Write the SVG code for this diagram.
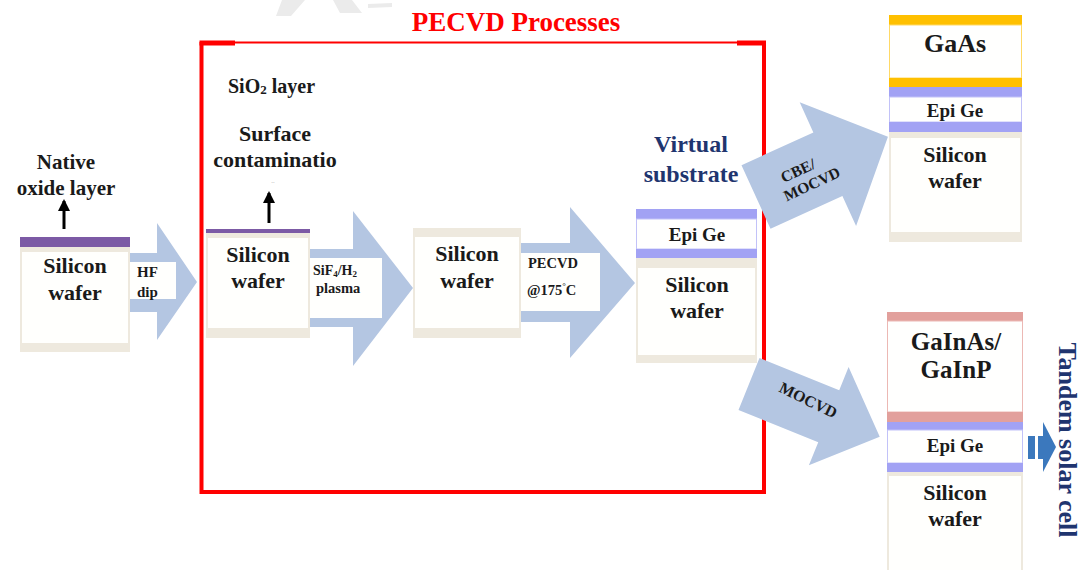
<svg xmlns="http://www.w3.org/2000/svg" width="1083" height="570" viewBox="0 0 1083 570">
<style>
.t{font-family:"Liberation Serif","Times New Roman",serif;font-weight:bold;fill:#1a1a1a;text-anchor:middle}
.l{text-anchor:start}
.arr{fill:#b4c6e2}
.beige{fill:#eee9de}
.wh{fill:#fffffd}
.ox{fill:#7c5aa5}
.ge{fill:#a2a2f4}
.geb{fill:#fffffe;stroke:#c2c2f8;stroke-width:1}
.ora{fill:#ffc000}
.orab{fill:#fffffe;stroke:#ffd966;stroke-width:1}
.pk{fill:#e2a09c}
.pkb{fill:#fffffe;stroke:#ecb8b4;stroke-width:1}
.red{fill:none;stroke:#ff0000}
.navy{fill:#1f356f}
</style>
<defs>
<marker id="up" markerWidth="12" markerHeight="12" refX="10" refY="6" orient="auto" markerUnits="userSpaceOnUse" viewBox="0 0 12 12">
<path d="M0,0 L12,6 L0,12 Z" fill="#000"/>
</marker>
</defs>
<rect width="1083" height="570" fill="#ffffff"/>
<!-- faint watermark -->
<g fill="#ebebeb">
<polygon points="282,0 305,0 291,16 276,16"/>
<polygon points="333,0 352,0 362,13 340,13"/>
<polygon points="368,4 392,3 392,7 368,8"/>
</g>

<!-- red PECVD box -->
<g id="pecvd-box">
<path class="red" d="M201.5,42 V492 H764 V42" stroke-width="4"/>
<line class="red" x1="201" y1="42.5" x2="765" y2="42.5" stroke-width="2"/>
<line class="red" x1="199.5" y1="43" x2="235" y2="43" stroke-width="5"/>
<line class="red" x1="737" y1="43" x2="766" y2="43" stroke-width="5"/>
<text class="t" x="516" y="31" font-size="27" style="fill:#ff0000">PECVD Processes</text>
</g>

<!-- annotations -->
<g id="native-oxide-label">
<text class="t" x="66" y="169" font-size="21">Native</text>
<text class="t" x="66" y="195" font-size="21">oxide layer</text>
<line x1="64" y1="229" x2="64" y2="201" stroke="#000" stroke-width="3" marker-end="url(#up)"/>
</g>
<g id="sio2-label">
<text class="t l" x="228" y="93" font-size="20">SiO<tspan font-size="13" dy="1">2</tspan><tspan dy="-1"> layer</tspan></text>
</g>
<g id="surface-label">
<text class="t" x="275" y="141" font-size="22">Surface</text>
<text class="t" x="275" y="167" font-size="22">contaminatio</text>
<text class="t" x="273" y="184" font-size="5" style="fill:#888">··</text>
<line x1="269" y1="223" x2="269" y2="193" stroke="#000" stroke-width="3" marker-end="url(#up)"/>
</g>
<g id="virtual-label">
<text class="t navy" x="691" y="152" font-size="24">Virtual</text>
<text class="t navy" x="691" y="182" font-size="24">substrate</text>
</g>

<!-- wafer 1 -->
<g id="wafer1">
<rect class="ox" x="20" y="237" width="110" height="10"/>
<rect class="beige" x="20" y="247" width="110" height="105"/>
<rect class="wh" x="22" y="252" width="106" height="91"/>
<text class="t" x="75" y="273" font-size="22">Silicon</text>
<text class="t" x="75" y="300" font-size="22">wafer</text>
</g>

<!-- wafer 2 -->
<g id="wafer2">
<rect class="ox" x="206" y="229" width="104" height="4"/>
<rect class="beige" x="206" y="233" width="104" height="105"/>
<rect class="wh" x="208" y="238" width="100" height="90"/>
<text class="t" x="258" y="262" font-size="22">Silicon</text>
<text class="t" x="258" y="288" font-size="22">wafer</text>
</g>

<!-- wafer 3 -->
<g id="wafer3">
<rect class="beige" x="413" y="228" width="108" height="110"/>
<rect class="wh" x="415" y="237" width="104" height="91"/>
<text class="t" x="467" y="261" font-size="22">Silicon</text>
<text class="t" x="467" y="288" font-size="22">wafer</text>
</g>

<!-- wafer 4 virtual substrate -->
<g id="wafer4">
<rect class="ge" x="636" y="209" width="121" height="10"/>
<rect class="geb" x="636.5" y="219" width="120" height="30"/>
<rect class="ge" x="636" y="249" width="121" height="9"/>
<rect class="beige" x="636" y="258" width="121" height="105"/>
<rect class="wh" x="638" y="268" width="117" height="87"/>
<text class="t" x="697" y="241" font-size="19">Epi Ge</text>
<text class="t" x="697" y="292" font-size="22">Silicon</text>
<text class="t" x="697" y="318" font-size="22">wafer</text>
</g>

<!-- GaAs stack -->
<g id="gaas-stack">
<rect class="ora" x="889" y="15" width="133" height="10"/>
<rect class="orab" x="889.5" y="25" width="132" height="53"/>
<rect class="ora" x="889" y="78" width="133" height="9"/>
<rect class="ge" x="889" y="87" width="133" height="10"/>
<rect class="geb" x="889.5" y="97" width="132" height="25"/>
<rect class="ge" x="889" y="122" width="133" height="10"/>
<rect class="beige" x="889" y="132" width="133" height="110"/>
<rect class="wh" x="891" y="138" width="129" height="94"/>
<text class="t" x="955" y="52" font-size="26">GaAs</text>
<text class="t" x="955" y="117" font-size="19">Epi Ge</text>
<text class="t" x="955" y="162" font-size="22">Silicon</text>
<text class="t" x="955" y="188" font-size="22">wafer</text>
</g>

<!-- GaInAs stack -->
<g id="gainas-stack">
<rect class="pk" x="887" y="312" width="136" height="9"/>
<rect class="pkb" x="887.5" y="321" width="135" height="91"/>
<rect class="pk" x="887" y="412" width="136" height="10"/>
<rect class="ge" x="887" y="422" width="136" height="8"/>
<rect class="geb" x="887.5" y="430" width="135" height="33"/>
<rect class="ge" x="887" y="463" width="136" height="9"/>
<rect class="beige" x="887" y="472" width="136" height="98"/>
<rect class="wh" x="889" y="476" width="132" height="94"/>
<text class="t" x="956" y="350" font-size="25">GaInAs/</text>
<text class="t" x="956" y="378" font-size="25">GaInP</text>
<text class="t" x="955" y="452" font-size="19">Epi Ge</text>
<text class="t" x="955" y="500" font-size="22">Silicon</text>
<text class="t" x="955" y="526" font-size="22">wafer</text>
</g>

<g id="tandem-label">
<text class="t navy" transform="translate(1059,440) rotate(90)" font-size="26">Tandem solar cell</text>
</g>

<!-- connectors -->
<g id="connectors">
<g id="arrow-hf">
<polygon class="arr" points="130,253 157,253 157,223 197,282 157,340 157,312 130,312"/>
<rect class="wh" x="130" y="262" width="46" height="37"/>
<text class="t l" x="137" y="277" font-size="15">HF</text>
<text class="t l" x="137" y="297" font-size="15">dip</text>
</g>
<g id="arrow-plasma">
<polygon class="arr" points="310,249 353,249 353,211 413,288 353,366 353,327 310,327"/>
<rect class="wh" x="310" y="258" width="72" height="60"/>
<text class="t l" x="313" y="275" font-size="14">SiF<tspan font-size="9" dy="2">4</tspan><tspan dy="-2">/H</tspan><tspan font-size="9" dy="2">2</tspan></text>
<text class="t l" x="316" y="293" font-size="14.5">plasma</text>
</g>
<g id="arrow-pecvd">
<polygon class="arr" points="521,243 570,243 570,207 635,283 570,358 570,322 521,322"/>
<rect class="wh" x="521" y="253" width="79" height="58"/>
<text class="t l" x="528" y="268" font-size="14.5">PECVD</text>
<text class="t l" x="527" y="295" font-size="14.5">@175<tspan font-size="9" dy="-6">°</tspan><tspan dy="6">C</tspan></text>
</g>
<g id="arrow-cbe">
<polygon class="arr" transform="translate(756,197) rotate(-24.5)" points="0,-35 79,-35 79,-68 145,0 79,68 79,35 0,35"/>
<g transform="translate(806,176) rotate(-25)">
<text class="t" x="-5" y="-3" font-size="15.5">CBE/</text>
<text class="t" x="2" y="15" font-size="15.5">MOCVD</text>
</g>
</g>
<g id="arrow-mocvd">
<polygon class="arr" transform="translate(749,384) rotate(22)" points="0,-28 86,-28 86,-53 141,0 86,53 86,28 0,28"/>
<text class="t" transform="translate(806,405) rotate(26)" font-size="16">MOCVD</text>
</g>
<g id="arrow-tandem">
<rect x="1028" y="436" width="16" height="23" fill="#3b78bd"/>
<rect x="1035" y="436" width="3" height="23" fill="#ffffff"/>
<polygon points="1043,422 1056,447 1043,472" fill="#3b78bd"/>
</g>
</g>
</svg>
